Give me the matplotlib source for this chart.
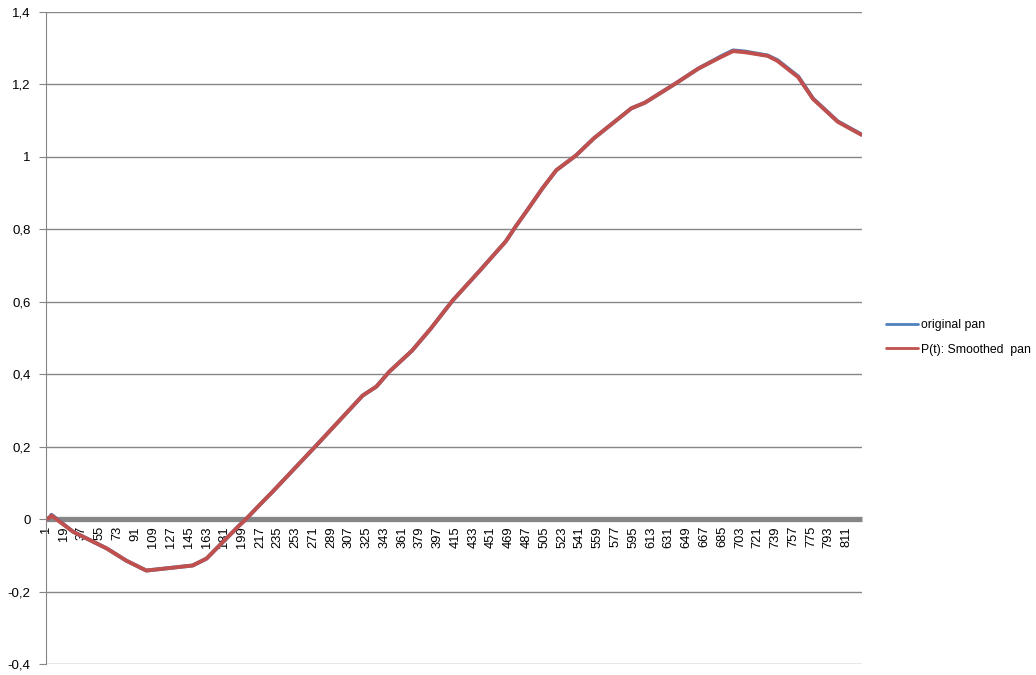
import matplotlib
matplotlib.use('Agg')
import matplotlib.pyplot as plt
from matplotlib.ticker import FixedLocator, FuncFormatter

# sample index (1-based) and values
t_index = [1, 4, 6, 28, 62, 82, 102, 129, 149, 163, 176, 196, 203, 216, 230,
           274, 321, 335, 348, 371, 390, 412, 439, 466, 476, 489, 503, 517,
           537, 555, 560, 593, 607, 638, 661, 684, 696, 708, 731, 741, 762,
           777, 802, 822, 826]
original_pan = [0.0, 0.004, 0.012, -0.035, -0.081, -0.115, -0.142, -0.134,
                -0.128, -0.109, -0.073, -0.018, 0.0, 0.037, 0.076, 0.203,
                0.341, 0.366, 0.407, 0.465, 0.526, 0.603, 0.684, 0.767,
                0.808, 0.858, 0.913, 0.963, 1.004, 1.051, 1.062, 1.134,
                1.150, 1.203, 1.244, 1.278, 1.294, 1.291, 1.280, 1.267,
                1.222, 1.161, 1.098, 1.068, 1.062]
smoothed_pan = [0.0, 0.004, 0.010, -0.035, -0.081, -0.115, -0.142, -0.134,
                -0.128, -0.109, -0.073, -0.018, 0.0, 0.037, 0.076, 0.203,
                0.341, 0.366, 0.407, 0.465, 0.526, 0.603, 0.684, 0.767,
                0.808, 0.858, 0.913, 0.963, 1.004, 1.051, 1.062, 1.134,
                1.150, 1.203, 1.244, 1.276, 1.292, 1.289, 1.279, 1.265,
                1.220, 1.160, 1.097, 1.067, 1.061]
n_points = 826
x_labels = list(range(1, 812, 18))
y_ticks = [-0.4, -0.2, 0, 0.2, 0.4, 0.6, 0.8, 1, 1.2, 1.4]

grid_col = '#868686'
plt.rcParams['font.family'] = ['Liberation Sans', 'DejaVu Sans']

fig = plt.figure(figsize=(10.36, 6.75), dpi=100)
ax = fig.add_axes([0.0444, 0.0163, 0.7876, 0.9659])

# spine position first: it resets the tick objects
for s in ['top', 'right']:
    ax.spines[s].set_visible(False)
ax.spines['left'].set_color(grid_col)
ax.spines['bottom'].set_position(('data', 0))
ax.spines['bottom'].set_color(grid_col)
ax.spines['bottom'].set_linewidth(3.8)
ax.spines['bottom'].set_capstyle('butt')
ax.spines['bottom'].set_zorder(1)

ax.plot(t_index, original_pan, color='#4F81BD', lw=2.8, label='original pan',
        solid_capstyle='round')
ax.plot(t_index, smoothed_pan, color='#C0504D', lw=2.8, label='P(t): Smoothed  pan',
        solid_capstyle='round')

ax.set_xlim(0.5, n_points + 0.5)
ax.set_ylim(-0.4, 1.4)
ax.yaxis.set_major_locator(FixedLocator(y_ticks))
ax.yaxis.set_major_formatter(FuncFormatter(
    lambda v, p: ('%g' % round(v, 1)).replace('.', ',')))
ax.grid(axis='y', color=grid_col, lw=1)
ax.set_axisbelow(True)

ax.set_xticks(x_labels)
ax.set_xticklabels([str(v) for v in x_labels])
ax.tick_params(axis='x', length=0, pad=5, labelsize=9.3, labelrotation=90)
ax.tick_params(axis='y', length=5, color=grid_col, labelsize=9.5, pad=6)

leg = fig.legend(loc='center left', bbox_to_anchor=(0.845, 0.5), frameon=False,
                 fontsize=8.8, handlelength=2.6, handletextpad=0.2,
                 labelspacing=1.0)
for line in leg.get_lines():
    line.set_linewidth(2)

fig.savefig('out.png', dpi=100)
